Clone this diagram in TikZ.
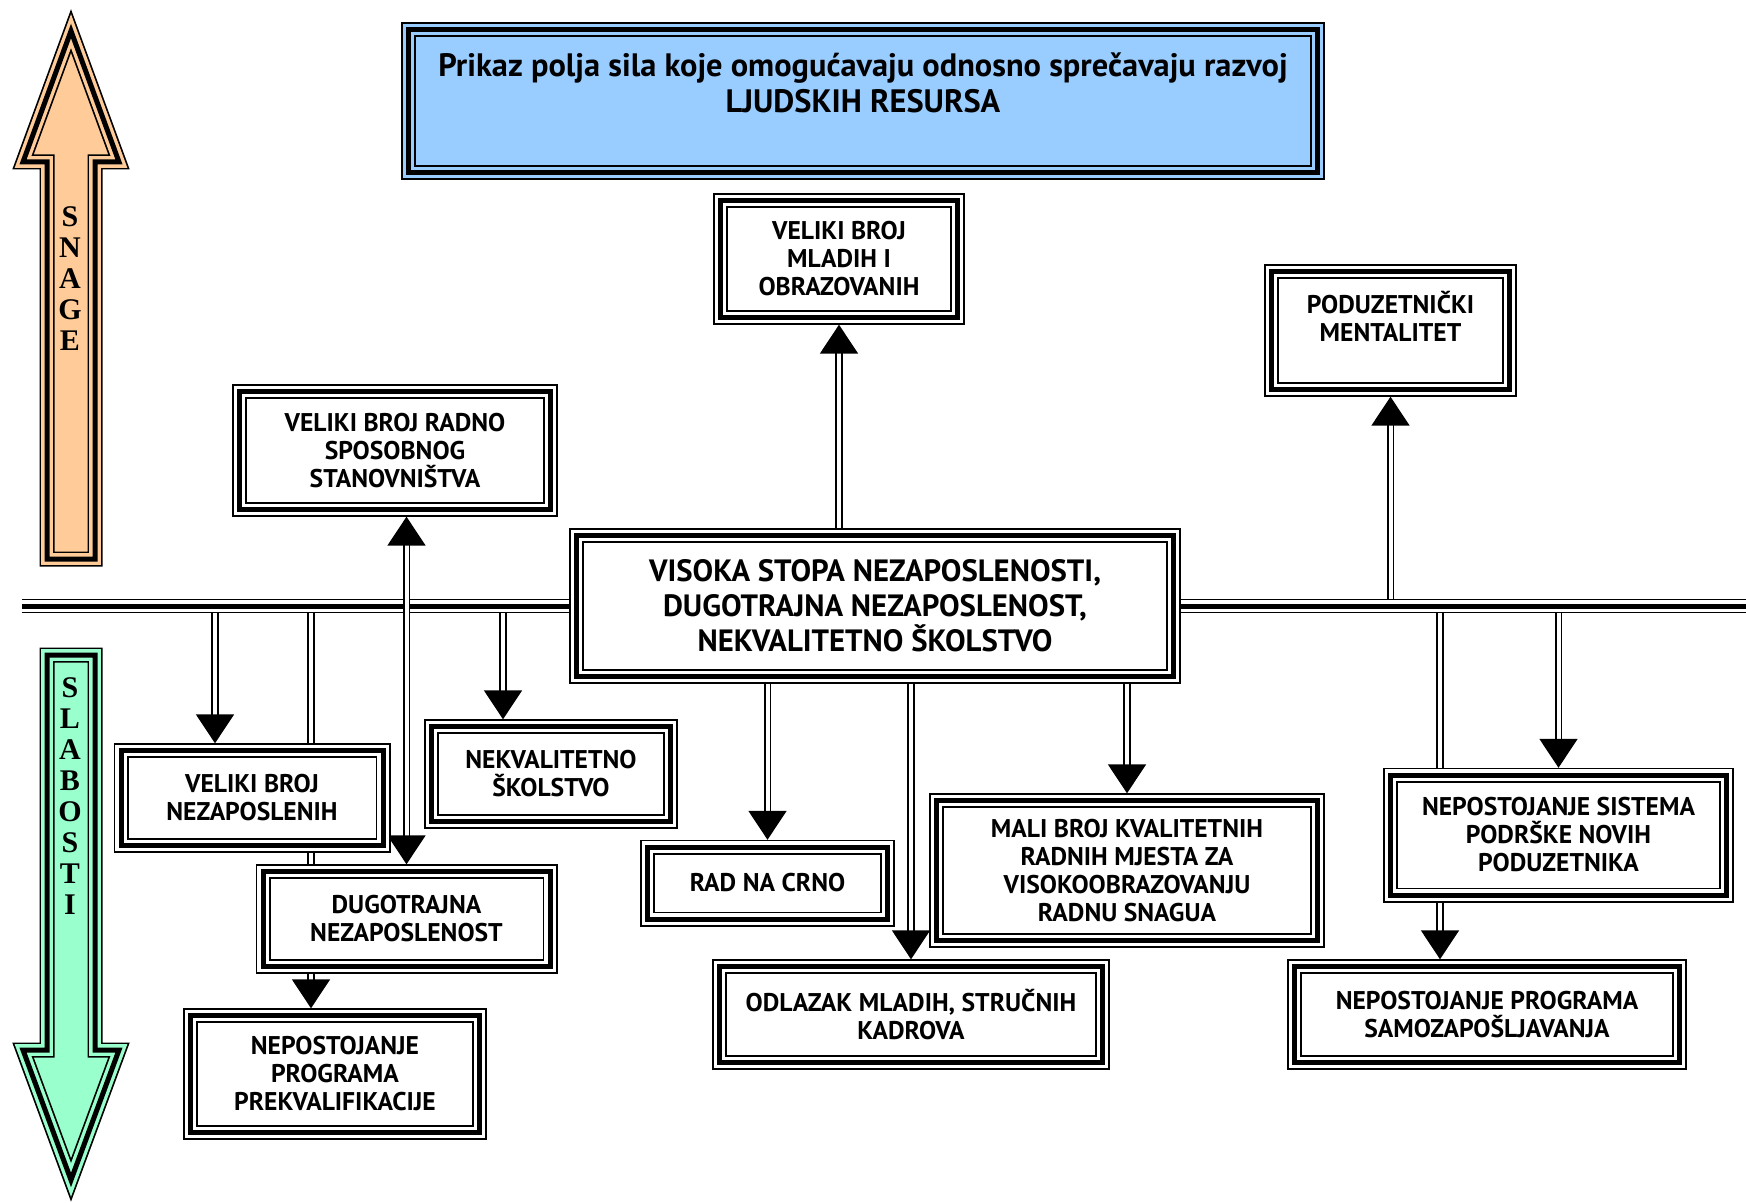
\documentclass[tikz,border=0pt]{standalone}
\usepackage{fontspec}
\setmainfont{PT Sans}
\newfontfamily\stackfont{Liberation Serif}
\usetikzlibrary{arrows.meta,backgrounds}
\definecolor{TitleBlue}{HTML}{99CCFF}
\definecolor{ForcePeach}{HTML}{FFCC99}
\definecolor{WeakMint}{HTML}{99FFCC}

\begin{document}
\begin{tikzpicture}[
  x=0.5pt, y=-0.5pt,
  >={Triangle[length=14.5pt,width=19pt]},
  tribox/.style={draw=black, line width=2.5pt, outer sep=3.6pt, inner sep=1pt, align=center,
    preaction={fill=#1}, preaction={draw=black, line width=7.5pt}, preaction={draw=#1, line width=5.8pt}},
  tribox/.default=white,
  wh/.style 2 args={minimum width={#1*0.5pt-7.5pt}, minimum height={#2*0.5pt-7.5pt}},
  lbl/.style={font=\bfseries\fontsize{12.8}{14}\selectfont},
  conn/.style={->, line width=0.9pt, double=white, double distance=2pt},
  spine/.style={draw=black, line width=7pt, postaction={draw=white, line width=5.6pt}, postaction={draw=black, line width=2.5pt}},
  bigarrow/.style={line join=miter, draw=black, line width=2.5pt,
    preaction={fill=#1}, preaction={draw=black, line width=7.5pt}, preaction={draw=#1, line width=5.8pt}},
  stack/.style={font=\stackfont\bfseries\fontsize{15}{15.5}\selectfont, align=center, inner sep=0pt}
]
\useasboundingbox (0,0) rectangle (1746,1203);

% left side arrows
\draw[bigarrow=ForcePeach] (71,31) -- (119,162) -- (95,162) -- (95,559) -- (47,559) -- (47,162) -- (23,162) -- cycle;
\node[stack] (snage) at (70,279) {S\\N\\A\\G\\E};
\draw[bigarrow=WeakMint] (47,655) -- (95,655) -- (95,1050) -- (119,1050) -- (71,1180) -- (23,1050) -- (47,1050) -- cycle;
\node[stack] (slabosti) at (70,796) {S\\L\\A\\B\\O\\S\\T\\I};

% title
\node[tribox=TitleBlue, wh={924}{158}, font=\bfseries\fontsize{16.2}{18}\selectfont] (title) at (863,101)
  {Prikaz polja sila koje omogućavaju odnosno sprečavaju razvoj\\LJUDSKIH RESURSA\\~};

% center
\node[tribox, wh={612}{156}, font=\bfseries\fontsize{15.4}{17.5}\selectfont] (core) at (875,606)
  {VISOKA STOPA NEZAPOSLENOSTI,\\DUGOTRAJNA NEZAPOSLENOST,\\NEKVALITETNO ŠKOLSTVO};

% strengths
\node[tribox, lbl, wh={252}{132}] (mladi) at (839,259) {VELIKI BROJ\\MLADIH I\\OBRAZOVANIH};
\node[tribox, lbl, wh={253}{133}] (poduz) at (1390.5,330.5) {PODUZETNIČKI\\MENTALITET\\~};
\node[tribox, lbl, wh={326}{133}] (radno) at (395,450.5) {VELIKI BROJ RADNO\\SPOSOBNOG\\STANOVNIŠTVA};

% weaknesses
\node[tribox, lbl, wh={277}{110}] (nezap) at (252,798) {VELIKI BROJ\\NEZAPOSLENIH};
\node[tribox, lbl, wh={254}{110}] (skolstvo) at (551,774) {NEKVALITETNO\\ŠKOLSTVO};
\node[tribox, lbl, wh={302}{110}] (dugo) at (406.5,919) {DUGOTRAJNA\\NEZAPOSLENOST};
\node[tribox, lbl, wh={304}{132}] (prekv) at (335,1074) {NEPOSTOJANJE\\PROGRAMA\\PREKVALIFIKACIJE};
\node[tribox, lbl, wh={255}{87}] (crno) at (767.5,883) {RAD NA CRNO};
\node[tribox, lbl, wh={396}{155}] (mali) at (1127,870.5) {MALI BROJ KVALITETNIH\\RADNIH MJESTA ZA\\VISOKOOBRAZOVANJU\\RADNU SNAGUA};
\node[tribox, lbl, wh={398}{111}] (odlazak) at (911,1014.5) {ODLAZAK MLADIH, STRUČNIH\\KADROVA};
\node[tribox, lbl, wh={351}{135}] (sistema) at (1558.5,835) {NEPOSTOJANJE SISTEMA\\PODRŠKE NOVIH\\PODUZETNIKA};
\node[tribox, lbl, wh={400}{111}] (samozap) at (1487,1014.5) {NEPOSTOJANJE PROGRAMA\\SAMOZAPOŠLJAVANJA};

% axis and taps
\coordinate (spineL) at (22,606);
\coordinate (spineR) at (1746,606);
\coordinate (tapNezap) at (215,606);
\coordinate (tapPrekv) at (311,606);
\coordinate (tapSkol) at (503,606);
\coordinate (tapSamo) at (1440,606);

\begin{scope}[on background layer]
\draw[conn] (mladi.south |- core.north) -- (mladi.south);
\draw[conn] (poduz.south |- spineL) -- (poduz.south);
\draw[conn] (tapNezap) -- (tapNezap |- nezap.north);
\draw[conn] (tapPrekv) -- (tapPrekv |- prekv.north);
\draw[conn] (tapSkol) -- (tapSkol |- skolstvo.north);
\draw[conn] (crno.north |- core.south) -- (crno.north);
\draw[conn] (odlazak.north |- core.south) -- (odlazak.north);
\draw[conn] (mali.north |- core.south) -- (mali.north);
\draw[conn] (sistema.north |- spineL) -- (sistema.north);
\draw[conn] (tapSamo) -- (tapSamo |- samozap.north);
\draw[spine] (spineL) -- (spineR);
\draw[conn, <->] (dugo.north |- radno.south) -- (dugo.north);
\end{scope}

\end{tikzpicture}
\end{document}
